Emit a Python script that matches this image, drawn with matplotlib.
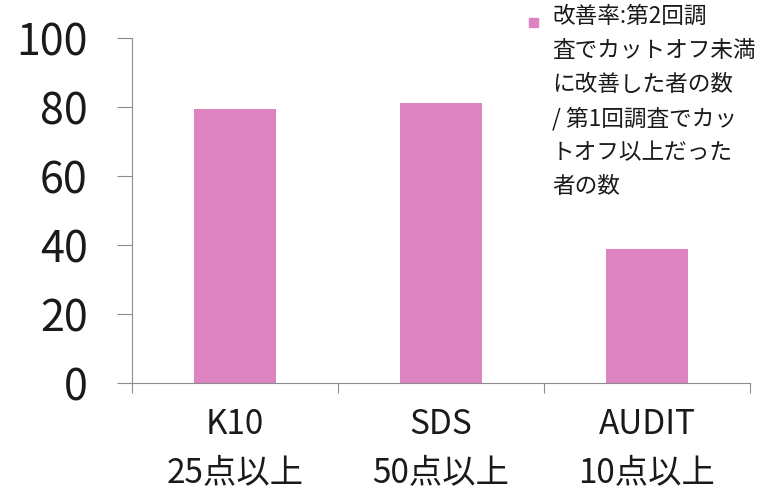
import matplotlib
matplotlib.use("Agg")
import matplotlib.pyplot as plt
from matplotlib.patches import Rectangle

plt.rcParams['font.family'] = ['Noto Sans CJK JP', 'DejaVu Sans']

# 改善率 (%)
categories = ['K10\n25点以上', 'SDS\n50点以上', 'AUDIT\n10点以上']
rates = [79.4, 81.2, 38.8]
legend_label = '改善率:第2回調\n査でカットオフ未満\nに改善した者の数\n/ 第1回調査でカッ\nトオフ以上だった\n者の数'
yticks = [0, 20, 40, 60, 80, 100]

bar_color = '#dd83bf'
axis_color = '#8c8c8c'

fig = plt.figure(figsize=(7.63, 4.94), dpi=100)
ax = fig.add_axes([132 / 763, 1 - 383 / 494, (750 - 132) / 763, (383 - 38) / 494])

x = list(range(len(categories)))
ax.bar(x, rates, width=0.4, color=bar_color, zorder=2)

ax.set_xlim(-0.5, len(categories) - 0.5)
ax.set_ylim(0, 100)
ax.set_yticks(yticks)
ax.tick_params(axis='y', length=10.8, width=0.8, color=axis_color, pad=21,
               labelsize=31, labelcolor='#1a1a1a')

# 目盛線は区切り位置、ラベルは棒の中央
ax.set_xticks([i - 0.5 for i in range(len(categories) + 1)])
ax.set_xticklabels([])
ax.tick_params(axis='x', which='major', length=7.5, width=0.8, color=axis_color)
ax.set_xticks(x, minor=True)
ax.set_xticklabels(categories, minor=True, fontsize=24, color='#1a1a1a', linespacing=1.5)
ax.tick_params(axis='x', which='minor', length=0, pad=17)

for side in ['top', 'right']:
    ax.spines[side].set_visible(False)
for side in ['left', 'bottom']:
    ax.spines[side].set_color(axis_color)
    ax.spines[side].set_linewidth(0.8)

# 凡例
fig.patches.append(Rectangle((529 / 763, 1 - 27 / 494), 9 / 763, 9 / 494,
                             transform=fig.transFigure, color=bar_color))
fig.text(552 / 763, 1 - 5 / 494, legend_label, fontsize=16.3, va='top', ha='left',
         color='#1a1a1a', linespacing=1.6)

fig.savefig('out.png', dpi=100)
